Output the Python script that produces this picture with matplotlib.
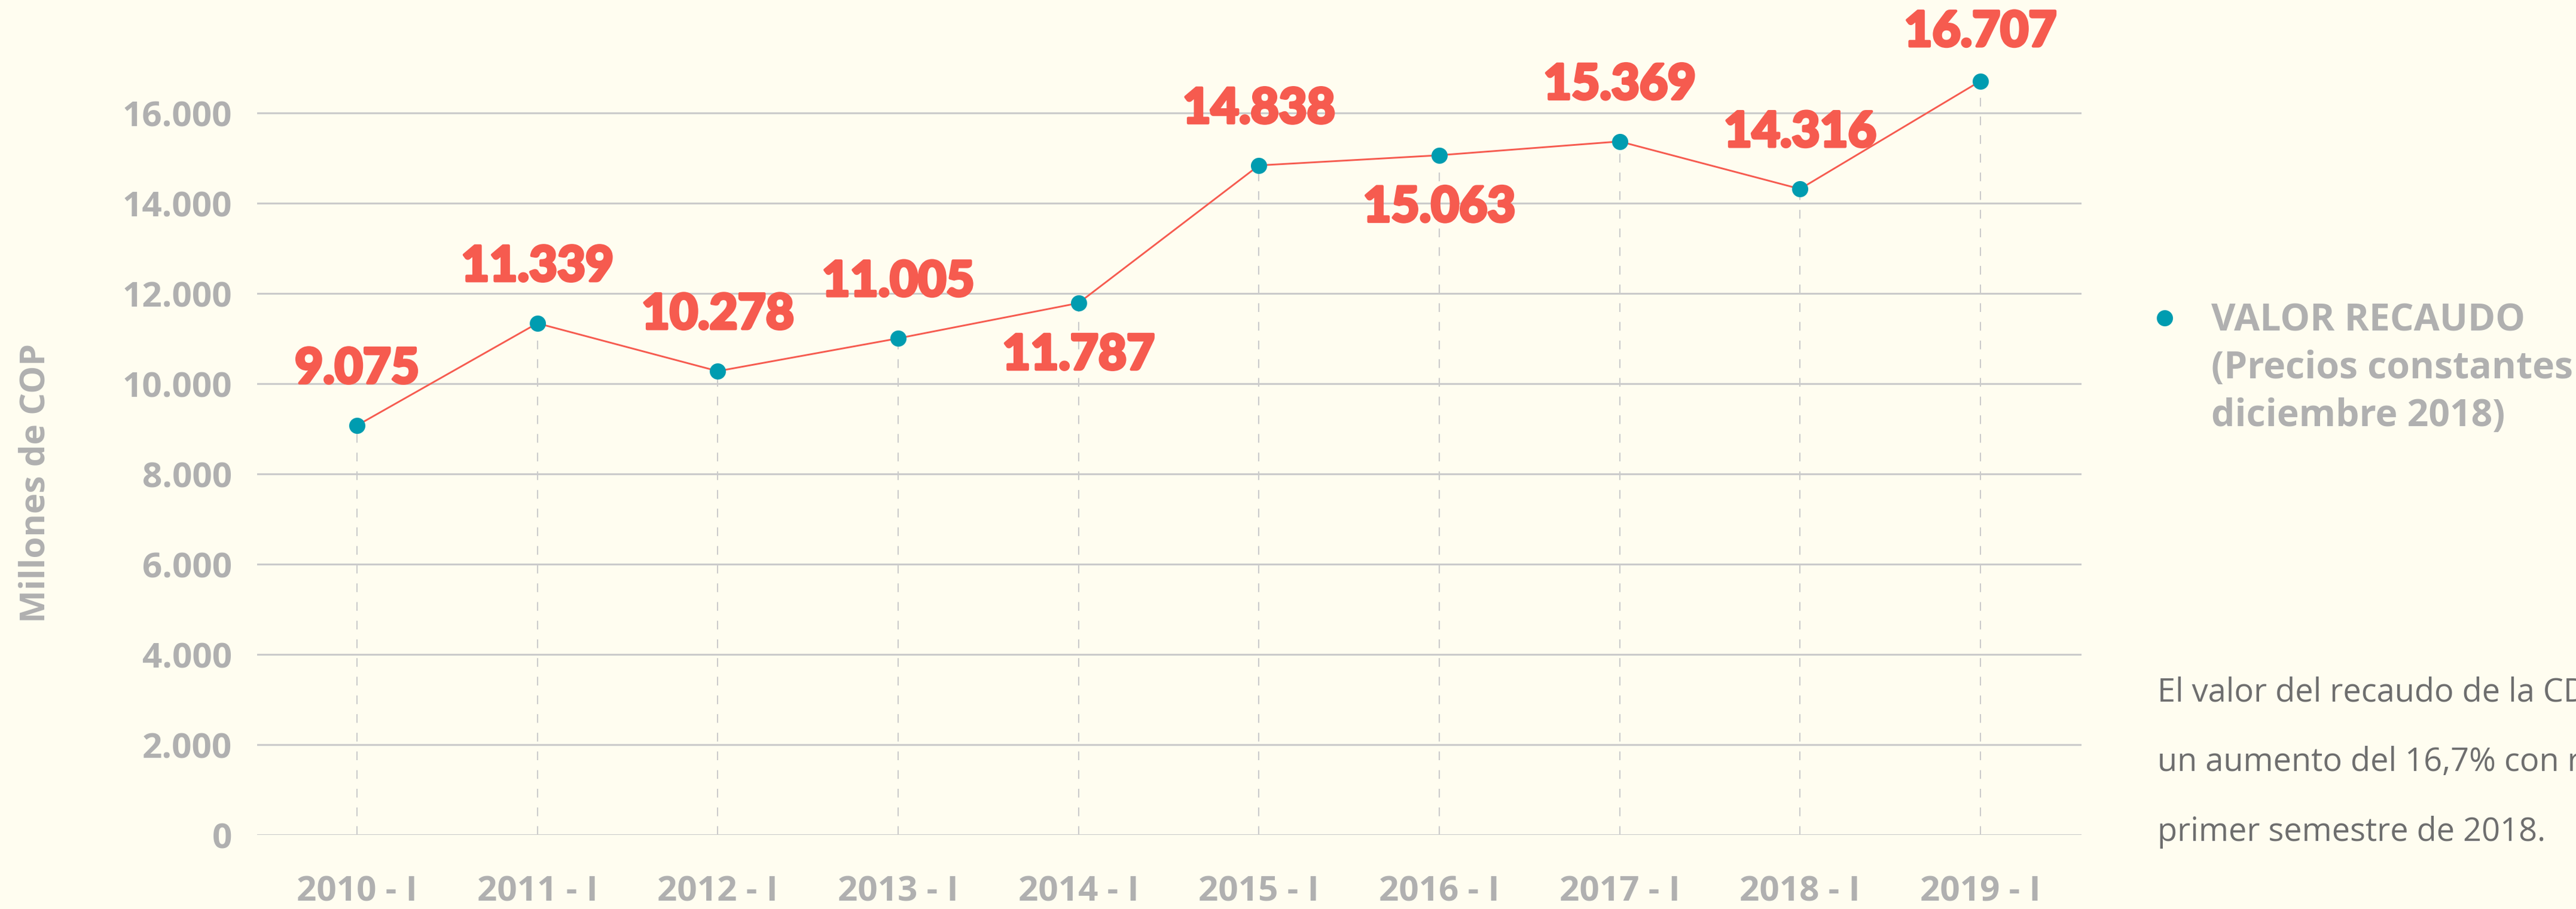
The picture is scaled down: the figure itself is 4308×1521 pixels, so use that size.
import matplotlib.pyplot as plt
import matplotlib.patheffects as pe
from matplotlib.ticker import FuncFormatter

# datos
periodos = ['2010 - I', '2011 - I', '2012 - I', '2013 - I', '2014 - I',
            '2015 - I', '2016 - I', '2017 - I', '2018 - I', '2019 - I']
recaudo = [9075, 11339, 10278, 11005, 11787, 14838, 15063, 15369, 14316, 16707]
etiquetas = ['9.075', '11.339', '10.278', '11.005', '11.787',
             '14.838', '15.063', '15.369', '14.316', '16.707']
abajo = [False, False, False, False, True, False, True, False, False, False]
yticks = [0, 2000, 4000, 6000, 8000, 10000, 12000, 14000, 16000]
leyenda = ['VALOR RECAUDO', '(Precios constantes', 'diciembre 2018)']
nota = ['El valor del recaudo de la CD',
        'un aumento del 16,7% con r',
        'primer semestre de 2018.']

FONDO = '#fffdf0'
ROJO = '#f65b4f'
AZUL = '#009cb0'
GRIS = '#b0b0b0'
GRID = '#cbcbcb'

plt.rcParams['font.family'] = ['Open Sans', 'DejaVu Sans']

fig = plt.figure(figsize=(4308 / 300, 1521 / 300), dpi=300, facecolor=FONDO)
ax = fig.add_axes([0.0998, 0.0815, 0.808 - 0.0998, 0.975 - 0.0815])
ax.set_facecolor(FONDO)

x = list(range(len(periodos)))
ax.set_xlim(-0.554, 9.56)
ax.set_ylim(0, 18000)

for v in yticks:
    ax.axhline(v, color=GRID, lw=0.75, zorder=1)

# lineas punteadas verticales
ax.vlines(x, 0, recaudo, colors=GRID, lw=0.5, linestyles=(0, (7, 8)), zorder=1)

ax.plot(x, recaudo, color=ROJO, lw=0.7, zorder=2)
ax.plot(x, recaudo, 'o', color=AZUL, ms=6.5, mec='none', zorder=3)

grueso = [pe.withStroke(linewidth=1.1, foreground=ROJO)]
for i, (xi, v, t, ab) in enumerate(zip(x, recaudo, etiquetas, abajo)):
    if ab:
        off, va = -12, 'top'
    else:
        off, va = 17, 'baseline'
    if i == len(x) - 1:
        off = 14
    ax.annotate(t, (xi, v), xytext=(0, off), textcoords='offset points',
                ha='center', va=va, color=ROJO, fontsize=19.5,
                family='Lato', weight='black', path_effects=grueso)

ax.set_xticks(x)
ax.set_xticklabels(periodos)
ax.set_yticks(yticks)
ax.yaxis.set_major_formatter(FuncFormatter(lambda v, p: f'{int(v):,}'.replace(',', '.')))
ax.tick_params(axis='both', length=0, labelsize=14, labelcolor=GRIS)
ax.tick_params(axis='y', pad=10)
ax.tick_params(axis='x', pad=16)
for lab in ax.get_xticklabels() + ax.get_yticklabels():
    lab.set_fontweight('bold')
for s in ax.spines.values():
    s.set_visible(False)

fig.text(60 / 4308, 1 - 808 / 1521, 'Millones de COP', rotation=90, ha='center',
         va='center', color=GRIS, fontsize=14, weight='bold')

# leyenda
fig.lines.append(plt.Line2D([3620 / 4308], [1 - 532 / 1521], marker='o', color=AZUL,
                            ms=6.5, mec='none', transform=fig.transFigure))
for i, linea in enumerate(leyenda):
    fig.text(3698 / 4308, 1 - (553 + 80 * i) / 1521, linea, ha='left',
             va='baseline', color=GRIS, fontsize=15, weight='bold')

for i, linea in enumerate(nota):
    fig.text(3608 / 4308, 1 - (1173 + 117 * i) / 1521, linea, ha='left',
             va='baseline', color='#6e6e6e', fontsize=13)

fig.savefig('out.png', dpi=300, facecolor=FONDO)
